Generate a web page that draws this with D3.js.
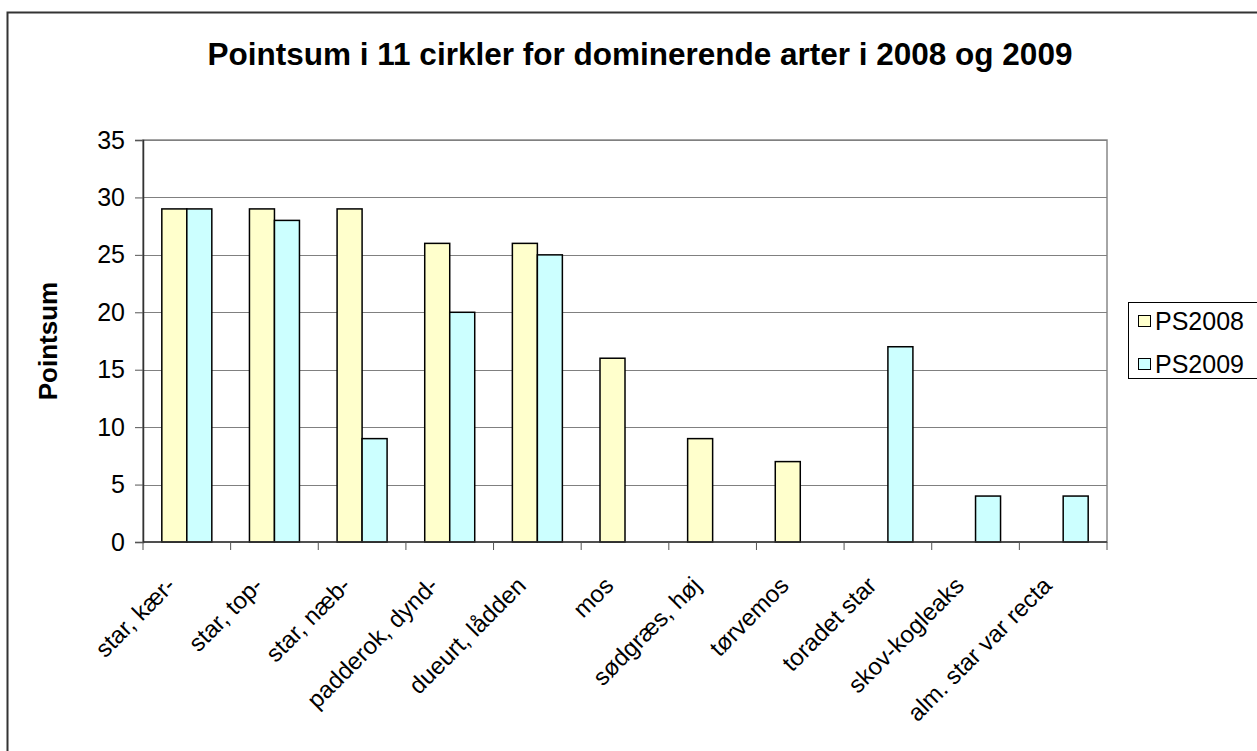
<!DOCTYPE html>
<html><head><meta charset="utf-8">
<script src="https://cdn.jsdelivr.net/npm/d3@7"></script>
<style>body{margin:0;background:#fff}svg{display:block}</style>
</head><body>
<script>
const categories = ["star, kær-","star, top-","star, næb-","padderok, dynd-","dueurt, lådden","mos","sødgræs, høj","tørvemos","toradet star","skov-kogleaks","alm. star var recta"];
const ps2008 = [29,29,29,26,26,16,9,7,0,0,0];
const ps2009 = [29,28,9,20,25,0,0,0,17,4,4];
const seriesNames = ["PS2008","PS2009"];
const yTicks = [0,5,10,15,20,25,30,35];
const colors = ["#FFFFCC","#CCFFFF"];

const W = 1257, H = 751;
const m = {left:143, top:140, right:1107, bottom:542};
const svg = d3.select("body").append("svg").attr("width",W).attr("height",H);
const font = "Liberation Sans, Arial, sans-serif";

// outer chart border (only left/top visible)
svg.append("rect").attr("x",7.5).attr("y",12.5).attr("width",1400).attr("height",1000)
  .attr("fill","none").attr("stroke","#333").attr("stroke-width",2);

const x = d3.scaleBand().domain(categories).range([m.left,m.right]);
const y = d3.scaleLinear().domain([0,35]).range([m.bottom,m.top]);

// plot border
svg.append("rect").attr("x",m.left).attr("y",m.top).attr("width",m.right-m.left).attr("height",m.bottom-m.top)
  .attr("fill","none").attr("stroke","#888").attr("stroke-width",1.5);

// gridlines
svg.append("g").selectAll("line").data(yTicks.filter(d=>d>0)).join("line")
  .attr("x1",m.left).attr("x2",m.right).attr("y1",d=>Math.round(y(d))+0.5).attr("y2",d=>Math.round(y(d))+0.5)
  .attr("stroke","#808080").attr("stroke-width",1);

// bars
const barW = 25;
const series = [ps2008, ps2009];
series.forEach((vals,si)=>{
  svg.append("g").selectAll("rect").data(categories.map((c,i)=>({c,v:vals[i]})).filter(d=>d.v>0)).join("rect")
    .attr("x",d=>x(d.c)+x.bandwidth()/2 - barW + si*barW)
    .attr("y",d=>y(d.v))
    .attr("width",barW)
    .attr("height",d=>y(0)-y(d.v))
    .attr("fill",colors[si]).attr("stroke","#000").attr("stroke-width",1.5);
});

// y axis
const yAxis = d3.axisLeft(y).tickValues(yTicks).tickSize(8).tickPadding(10);
const ga = svg.append("g").attr("transform",`translate(${m.left},0)`).call(yAxis);
ga.select(".domain").attr("stroke","#333").attr("stroke-width",1.5);
ga.selectAll(".tick line").attr("stroke","#555");
ga.selectAll("text").attr("font-family",font).attr("font-size",25).attr("fill","#000");

// x axis
const gx = svg.append("g").attr("transform",`translate(0,${m.bottom})`);
gx.append("line").attr("x1",m.left).attr("x2",m.right).attr("stroke","#333").attr("stroke-width",1.5);
const bounds = categories.map(c=>x(c)).concat([m.right]);
gx.selectAll("line.t").data(bounds).join("line").attr("class","t")
  .attr("x1",d=>d).attr("x2",d=>d).attr("y1",0).attr("y2",8).attr("stroke","#555");
gx.selectAll("text").data(categories).join("text")
  .attr("transform",d=>`translate(${x(d)+x.bandwidth()/2-10},${45}) rotate(-45)`)
  .attr("text-anchor","end")
  .attr("font-family",font).attr("font-size",24).text(d=>d);

// title
svg.append("text").attr("x",640).attr("y",65).attr("text-anchor","middle")
  .attr("font-family",font).attr("font-size",31.5).attr("font-weight","bold").text("Pointsum i 11 cirkler for dominerende arter i 2008 og 2009");

// y label
svg.append("text").attr("transform",`translate(57,${(m.top+m.bottom)/2}) rotate(-90)`).attr("text-anchor","middle")
  .attr("font-family",font).attr("font-size",26).attr("font-weight","bold").text("Pointsum");

// legend
const lg = svg.append("g");
lg.append("rect").attr("x",1128.5).attr("y",302.5).attr("width",200).attr("height",76)
  .attr("fill","#fff").attr("stroke","#000").attr("stroke-width",1);
seriesNames.forEach((n,i)=>{
  const yy = 321 + i*43;
  lg.append("rect").attr("x",1138.5).attr("y",yy-5.5).attr("width",12).attr("height",11)
    .attr("fill",colors[i]).attr("stroke","#000").attr("stroke-width",1);
  lg.append("text").attr("x",1155).attr("y",yy).attr("dy","0.36em")
    .attr("font-family",font).attr("font-size",25).text(n);
});
</script>
</body></html>
